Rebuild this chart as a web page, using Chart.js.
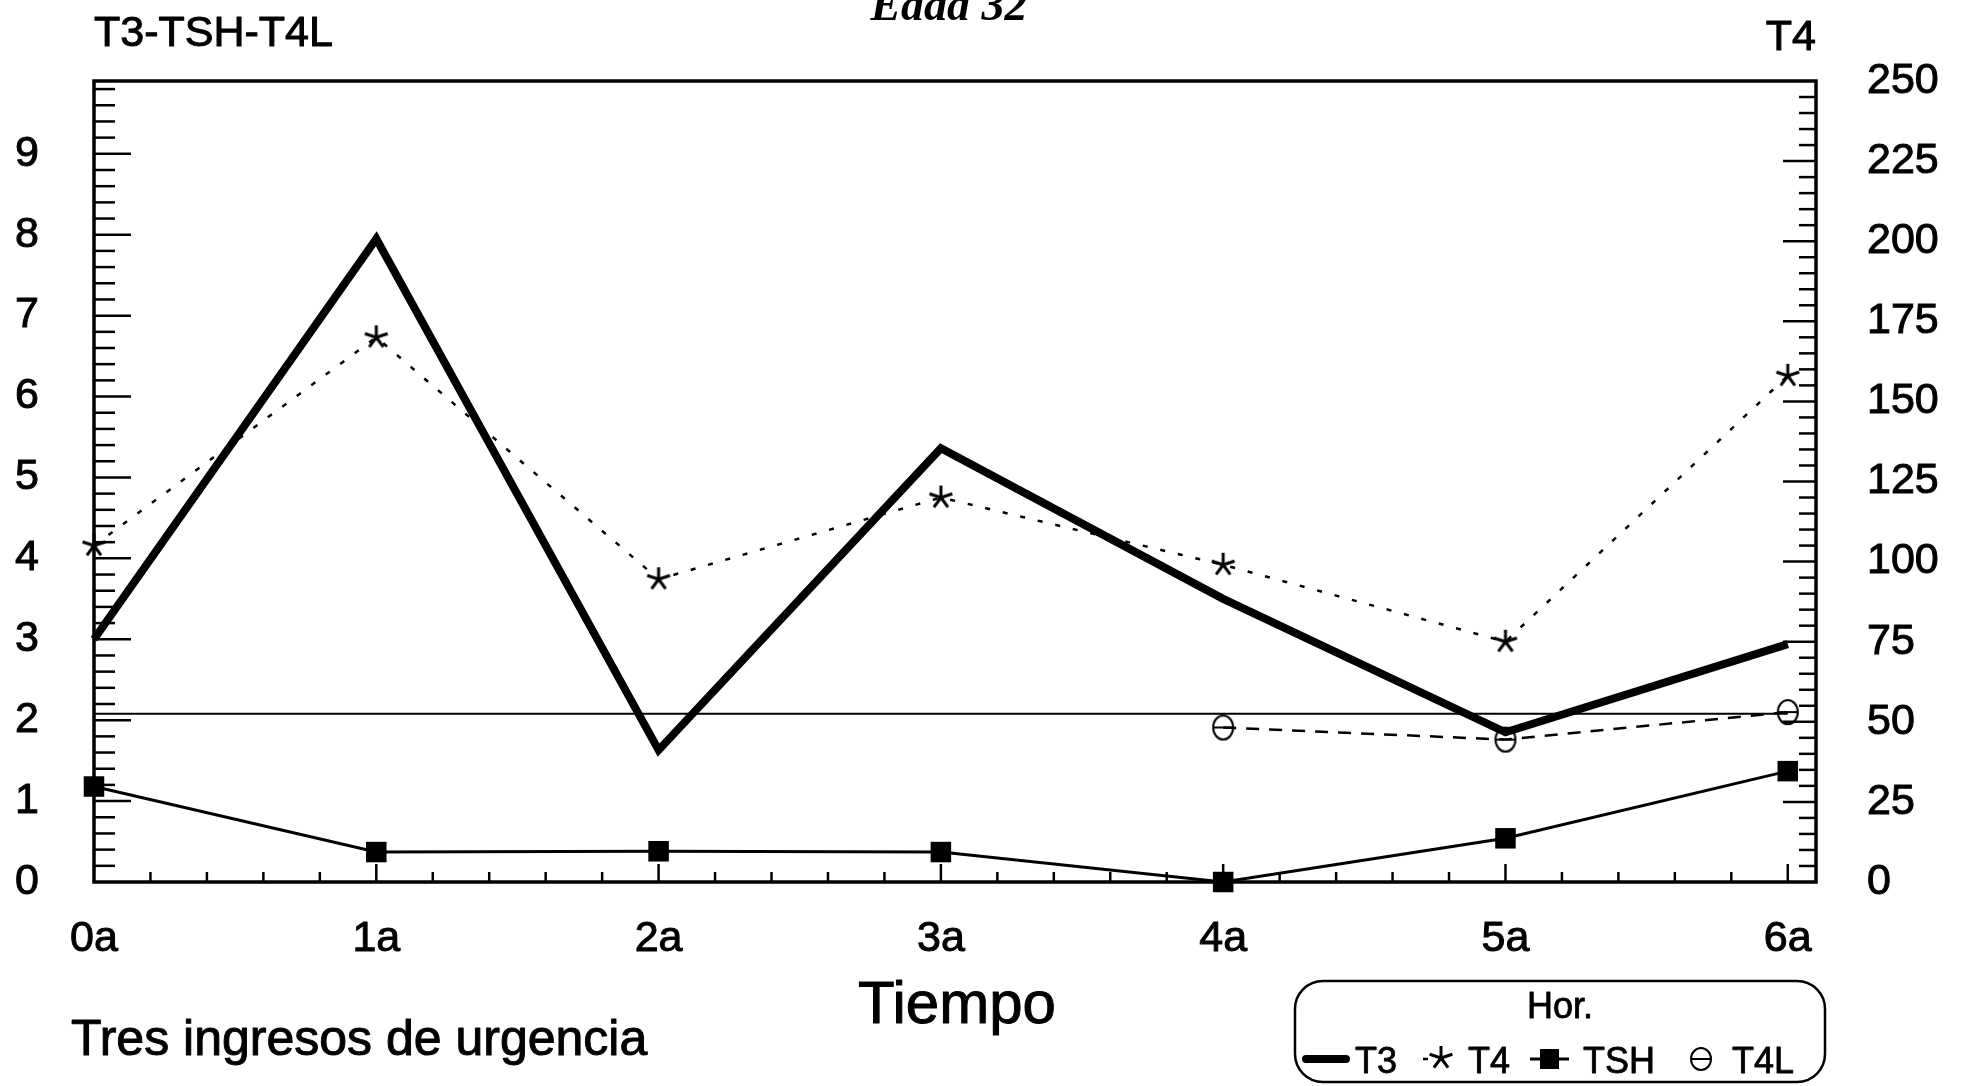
<!DOCTYPE html>
<html><head><meta charset="utf-8">
<script src="https://cdn.jsdelivr.net/npm/chart.js@4/dist/chart.umd.min.js"></script>
<style>html,body{margin:0;padding:0;background:#fff;overflow:hidden}#wrap{width:1965px;height:1086px;position:relative}</style>
</head><body><div id="wrap"><canvas id="c" width="1965" height="1086"></canvas></div>
<script>
// ---- data ----
const categories = ['0a', '1a', '2a', '3a', '4a', '5a', '6a'];
const t3  = [3.0, 7.95, 1.63, 5.36, 3.5, 1.85, 2.94];
const t4  = [105, 170, 94.5, 120, 99, 75, 158];
const tsh = [1.18, 0.37, 0.38, 0.37, 0, 0.54, 1.37];
const t4l = [null, null, null, null, 1.91, 1.76, 2.1];
const refLine = [2.08, 2.08, 2.08, 2.08, 2.08, 2.08, 2.08];
const leftTicks  = [0, 1, 2, 3, 4, 5, 6, 7, 8, 9];
const rightTicks = [0, 25, 50, 75, 100, 125, 150, 175, 200, 225, 250];
const leftMax = 9.9, rightMax = 250, xMax = 6.1;
const seriesNames = ['T3', 'T4', 'TSH', 'T4L'];
const titleText = 'Edad 32';
const leftAxisTitle = 'T3-TSH-T4L';
const rightAxisTitle = 'T4';
const xAxisTitle = 'Tiempo';
const noteText = 'Tres ingresos de urgencia';
const legendTitle = 'Hor.';

const SANS = '"Liberation Sans", Arial, Helvetica, sans-serif';
const SERIF = '"Liberation Serif", "Times New Roman", serif';
const pts = arr => arr.map((v, i) => ({ x: i, y: v }));

function drawAsterisk(g, cx, cy, r, lw) {
  g.save(); g.strokeStyle = '#000'; g.lineWidth = lw; g.lineCap = 'butt';
  for (let k = 0; k < 5; k++) {
    const a = (-90 + 72 * k) * Math.PI / 180;
    g.beginPath(); g.moveTo(cx, cy); g.lineTo(cx + r * Math.cos(a), cy + r * Math.sin(a)); g.stroke();
  }
  g.restore();
}
function drawCircleBar(g, cx, cy, rx, ry, lw) {
  g.save(); g.strokeStyle = '#000'; g.lineWidth = lw;
  g.beginPath(); g.ellipse(cx, cy, rx, ry, 0, 0, Math.PI * 2); g.stroke();
  g.beginPath(); g.moveTo(cx - rx, cy); g.lineTo(cx + rx, cy); g.stroke();
  g.restore();
}
function makeAsterisk() {
  const c = document.createElement('canvas'); c.width = 28; c.height = 28;
  drawAsterisk(c.getContext('2d'), 14, 14, 12, 3); return c;
}
function makeCircleBar() {
  const c = document.createElement('canvas'); c.width = 26; c.height = 28;
  drawCircleBar(c.getContext('2d'), 13, 14, 10, 12, 2); return c;
}
const asteriskImg = makeAsterisk();
const circleImg = makeCircleBar();

function txt(ctx, s, x, y, sw) {
  ctx.fillText(s, x, y);
  if (sw) { ctx.lineWidth = sw; ctx.strokeStyle = '#000'; ctx.lineJoin = 'round'; ctx.strokeText(s, x, y); }
}

const framePlugin = {
  id: 'frame',
  beforeDatasetsDraw(chart) {
    const { ctx, chartArea: a, scales } = chart;
    ctx.save(); ctx.strokeStyle = '#000'; ctx.lineCap = 'butt';
    const y = scales.y, y2 = scales.y2, x = scales.x;
    ctx.lineWidth = 2.5;
    for (let i = 0; i < leftTicks.length; i++) {
      for (let s = 0; s < 5; s++) {
        const v = leftTicks[i] + s * 0.2;
        if (v >= leftMax - 0.01 || (i === 0 && s === 0)) continue;
        const p = y.getPixelForValue(v);
        ctx.beginPath(); ctx.moveTo(a.left, p); ctx.lineTo(a.left + (s === 0 ? 37 : 21), p); ctx.stroke();
      }
    }
    for (let i = 0; i < rightTicks.length; i++) {
      for (let s = 0; s < 5; s++) {
        const v = rightTicks[i] + s * 5;
        if (v >= rightMax || (i === 0 && s === 0)) continue;
        const p = y2.getPixelForValue(v);
        ctx.beginPath(); ctx.moveTo(a.right, p); ctx.lineTo(a.right - (s === 0 ? 33 : 17), p); ctx.stroke();
      }
    }
    for (let i = 0; i < categories.length; i++) {
      for (let s = 0; s < 5; s++) {
        const v = i + s * 0.2;
        if ((i === 0 && s === 0) || v > xMax - 0.02) continue;
        const p = x.getPixelForValue(v);
        ctx.beginPath(); ctx.moveTo(p, a.bottom); ctx.lineTo(p, a.bottom - (s === 0 ? 18 : 10)); ctx.stroke();
      }
    }
    ctx.lineWidth = 3.5;
    ctx.strokeRect(a.left, a.top, a.right - a.left, a.bottom - a.top);
    ctx.restore();
  },
  afterDraw(chart) {
    const { ctx, chartArea: a } = chart;
    ctx.save(); ctx.fillStyle = '#000';
    ctx.font = 'italic bold 46px ' + SERIF; ctx.textAlign = 'center'; ctx.textBaseline = 'alphabetic';
    txt(ctx, titleText, 949, 20, 0);
    ctx.font = '43px ' + SANS;
    ctx.textAlign = 'left'; txt(ctx, leftAxisTitle, a.left, 46, 1);
    ctx.textAlign = 'right'; txt(ctx, rightAxisTitle, a.right, 50, 1);
    ctx.font = '60px ' + SANS; ctx.textAlign = 'center';
    txt(ctx, xAxisTitle, 957, 1023, 1);
    ctx.font = '50px ' + SANS; ctx.textAlign = 'left';
    txt(ctx, noteText, 71, 1055, 1);
    ctx.lineWidth = 2.5; ctx.strokeStyle = '#000';
    ctx.beginPath(); ctx.roundRect(1295, 981, 530, 101, 28); ctx.stroke();
    ctx.font = '36px ' + SANS; ctx.textAlign = 'center';
    txt(ctx, legendTitle, 1560, 1018, 0.8);
    const ly = 1059, tb = 1073;
    ctx.textAlign = 'left';
    ctx.lineWidth = 8; ctx.lineCap = 'round';
    ctx.beginPath(); ctx.moveTo(1306, ly); ctx.lineTo(1346, ly); ctx.stroke();
    txt(ctx, seriesNames[0], 1355, tb, 0.8);
    ctx.lineCap = 'butt'; ctx.lineWidth = 2.5;
    ctx.beginPath(); ctx.moveTo(1423, ly); ctx.lineTo(1428, ly); ctx.stroke();
    drawAsterisk(ctx, 1441, ly - 1, 12, 3);
    txt(ctx, seriesNames[1], 1468, tb, 0.8);
    ctx.lineWidth = 3;
    ctx.beginPath(); ctx.moveTo(1530, ly); ctx.lineTo(1569, ly); ctx.stroke();
    ctx.fillRect(1540, ly - 10, 19, 20);
    txt(ctx, seriesNames[2], 1583, tb, 0.8);
    drawCircleBar(ctx, 1701, ly, 10, 11, 2);
    txt(ctx, seriesNames[3], 1732, tb, 0.8);
    ctx.restore();
  }
};

const tickFont = { family: SANS, size: 43 };
const tickCommon = { color: '#000', font: tickFont, textStrokeColor: '#000', textStrokeWidth: 1 };
new Chart(document.getElementById('c'), {
  type: 'line',
  data: {
    datasets: [
      { label: 'ref', data: pts(refLine), yAxisID: 'y', borderColor: '#000', borderWidth: 2, pointRadius: 0, clip: false, order: 5 },
      { label: seriesNames[2], data: pts(tsh), yAxisID: 'y', borderColor: '#000', borderWidth: 3, pointStyle: 'rect', pointRadius: 14.5, pointBackgroundColor: '#000', pointBorderColor: '#000', pointBorderWidth: 0, clip: false, order: 4 },
      { label: seriesNames[3], data: pts(t4l), yAxisID: 'y', borderColor: '#000', borderWidth: 2.5, borderDash: [13, 10], pointStyle: circleImg, pointRadius: 12, clip: false, order: 3, spanGaps: false },
      { label: seriesNames[1], data: pts(t4), yAxisID: 'y2', borderColor: '#000', borderWidth: 2.5, borderDash: [5, 13], pointStyle: asteriskImg, pointRadius: 12, clip: false, order: 2 },
      { label: seriesNames[0], data: pts(t3), yAxisID: 'y', borderColor: '#000', borderWidth: 8, borderJoinStyle: 'miter', borderCapStyle: 'butt', pointRadius: 0, clip: false, order: 1 }
    ]
  },
  options: {
    responsive: false, animation: false, devicePixelRatio: 1,
    layout: { padding: { top: 81, left: 0, right: 0, bottom: 0 } },
    elements: { line: { tension: 0 } },
    plugins: { legend: { display: false }, tooltip: { enabled: false }, title: { display: false } },
    scales: {
      x: {
        type: 'linear', min: 0, max: xMax,
        afterBuildTicks(s) { s.ticks = categories.map((c, i) => ({ value: i })); },
        grid: { display: false, drawTicks: false }, border: { display: false },
        ticks: Object.assign({ padding: 31, maxRotation: 0, autoSkip: false, callback: v => categories[v] }, tickCommon),
        afterFit(s) { s.height = 204; }
      },
      y: {
        position: 'left', min: 0, max: leftMax,
        afterBuildTicks(s) { s.ticks = leftTicks.map(v => ({ value: v })); },
        grid: { display: false, drawTicks: false }, border: { display: false },
        ticks: Object.assign({ padding: 55 }, tickCommon),
        afterFit(s) { s.width = 94; }
      },
      y2: {
        position: 'right', min: 0, max: rightMax,
        afterBuildTicks(s) { s.ticks = rightTicks.map(v => ({ value: v })); },
        grid: { display: false, drawTicks: false }, border: { display: false },
        ticks: Object.assign({ padding: 51 }, tickCommon),
        afterFit(s) { s.width = 149; }
      }
    }
  },
  plugins: [framePlugin]
});
</script>
</body></html>
